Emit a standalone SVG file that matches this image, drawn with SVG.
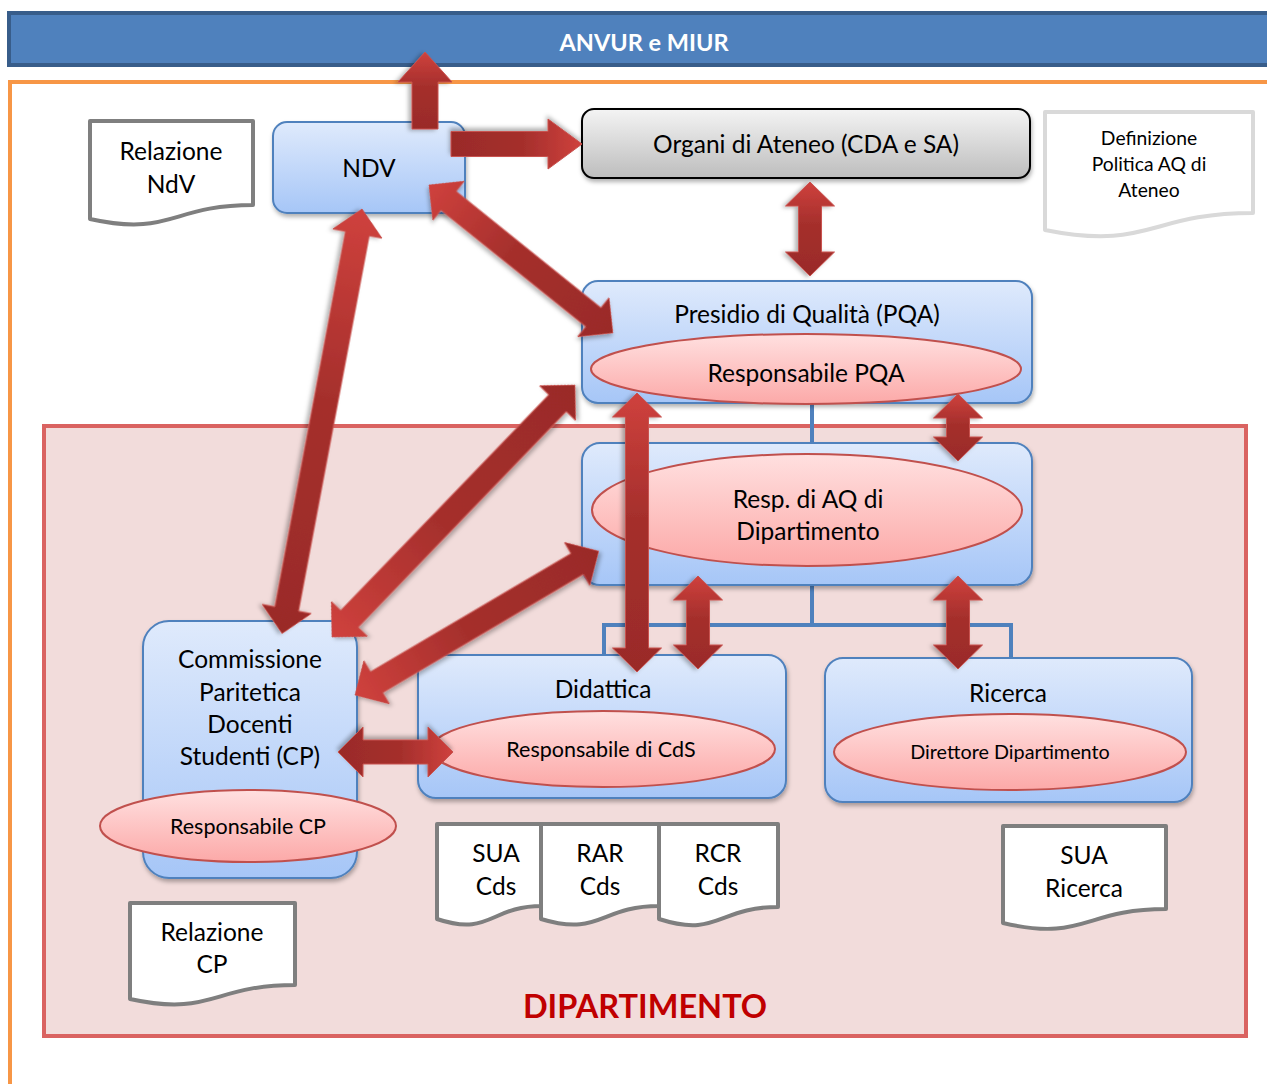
<svg xmlns="http://www.w3.org/2000/svg" width="1267" height="1084" viewBox="0 0 1267 1084">
<defs>
<linearGradient id="gBlue" x1="0" y1="0" x2="0" y2="1"><stop offset="0" stop-color="#dfeafc"/><stop offset="1" stop-color="#a6c6f7"/></linearGradient>
<linearGradient id="gPink" x1="0" y1="0" x2="0" y2="1"><stop offset="0" stop-color="#ffe0e0"/><stop offset="1" stop-color="#fca9a8"/></linearGradient>
<linearGradient id="gGrey" x1="0" y1="0" x2="0" y2="1"><stop offset="0" stop-color="#f4f4f4"/><stop offset="1" stop-color="#bdbdbd"/></linearGradient>
<linearGradient id="gArr" x1="0" y1="0" x2="1" y2="0"><stop offset="0" stop-color="#cf413d"/><stop offset="0.45" stop-color="#a52f2c"/><stop offset="1" stop-color="#9a2b28"/></linearGradient>
<filter id="sh" x="-10%" y="-10%" width="125%" height="130%"><feDropShadow dx="1" dy="3" stdDeviation="2" flood-color="#000" flood-opacity="0.3"/></filter>
<style>
.box{fill:url(#gBlue);stroke:#4f81bd;stroke-width:2;filter:url(#sh)}
.ell{fill:url(#gPink);stroke:#c0504d;stroke-width:2}
.doc{fill:#fff;stroke:#7f7f7f;stroke-width:4;stroke-linejoin:round}
.arr{fill:url(#gArr);stroke:#c9524f;stroke-width:1;filter:url(#sh)}
.t{font-family:Lato,"Open Sans",sans-serif;fill:#000;text-anchor:middle;font-size:24.5px}
.conn{fill:none;stroke:#4f81bd;stroke-width:4}
</style>
</defs>
<rect width="1267" height="1084" fill="#fff"/>

<g id="frame-ateneo"><rect x="10" y="82" width="1300" height="1100" fill="none" stroke="#f79646" stroke-width="4"/></g>
<g id="dipartimento"><rect x="44" y="426" width="1202" height="610" fill="#f2dcdb" stroke="#da6361" stroke-width="4"/>
<text class="t" x="645" y="1018" font-weight="bold" style="fill:#c00000;font-size:32.5px">DIPARTIMENTO</text></g>

<g id="anvur"><rect x="9" y="13" width="1300" height="52" fill="#4f81bd" stroke="#385d8a" stroke-width="4"/>
<text class="t" x="644" y="51" font-weight="bold" style="fill:#fff;font-size:23.5px">ANVUR e MIUR</text></g>

<g id="connectors">
<line class="conn" x1="812" y1="403" x2="812" y2="443"/>
<path class="conn" d="M812,585 V625 M604,657 V625 H1011 V657"/>
</g>

<g id="doc-ndv"><path class="doc" d="M90,121 H253 V205 C171,205 171,237 90,219 Z"/>
<text class="t" x="171" y="160">Relazione</text><text class="t" x="171" y="193">NdV</text></g>

<g id="ndv"><rect class="box" x="273" y="122" width="192" height="91" rx="14"/>
<text class="t" x="369" y="177">NDV</text></g>

<g id="organi"><rect x="582" y="109" width="448" height="69" rx="12" fill="url(#gGrey)" stroke="#000" stroke-width="2" filter="url(#sh)"/>
<text class="t" x="806" y="153">Organi di Ateneo (CDA e SA)</text></g>

<g id="doc-politica"><path class="doc" style="stroke:#d9d9d9" d="M1045,112 H1253 V213 C1149,213 1149,251 1045,230 Z"/>
<text class="t" x="1149" y="145" style="font-size:19.3px">Definizione</text><text class="t" x="1149" y="171" style="font-size:19.3px">Politica AQ di</text><text class="t" x="1149" y="197" style="font-size:19.3px">Ateneo</text></g>

<g id="pqa"><rect class="box" x="582" y="281" width="450" height="122" rx="16"/>
<text class="t" x="807" y="323">Presidio di Qualità (PQA)</text>
<ellipse class="ell" cx="806" cy="369" rx="215" ry="35"/>
<text class="t" x="806" y="382">Responsabile PQA</text></g>

<g id="aq-dip"><rect class="box" x="582" y="443" width="450" height="142" rx="18"/>
<ellipse class="ell" cx="807" cy="510" rx="215" ry="56"/>
<text class="t" x="808" y="508">Resp. di AQ di</text><text class="t" x="808" y="540">Dipartimento</text></g>

<g id="didattica"><rect class="box" x="418" y="655" width="368" height="143" rx="18"/>
<text class="t" x="603" y="698">Didattica</text>
<ellipse class="ell" cx="603" cy="749" rx="172" ry="38"/>
<text class="t" x="601" y="757" style="font-size:21.5px">Responsabile di CdS</text></g>

<g id="ricerca"><rect class="box" x="825" y="658" width="367" height="144" rx="18"/>
<text class="t" x="1008" y="702">Ricerca</text>
<ellipse class="ell" cx="1010" cy="752" rx="176" ry="38"/>
<text class="t" x="1010" y="759" style="font-size:19.8px">Direttore Dipartimento</text></g>

<g id="cp"><rect class="box" x="143" y="621" width="214" height="257" rx="26"/>
<text class="t" x="250" y="668">Commissione</text><text class="t" x="250" y="701">Paritetica</text><text class="t" x="250" y="733">Docenti</text><text class="t" x="250" y="765">Studenti (CP)</text>
<ellipse class="ell" cx="248" cy="826" rx="148" ry="36"/>
<text class="t" x="248" y="834" style="font-size:21.5px">Responsabile CP</text></g>

<g id="doc-sua-cds"><path class="doc" d="M437,824 H542 V906 C490,906 490,937 437,919 Z"/>
<text class="t" x="496" y="862">SUA</text><text class="t" x="496" y="895">Cds</text></g>
<g id="doc-rar-cds"><path class="doc" d="M541,824 H659 V906 C600,906 600,937 541,919 Z"/>
<text class="t" x="600" y="862">RAR</text><text class="t" x="600" y="895">Cds</text></g>
<g id="doc-rcr-cds"><path class="doc" d="M659,824 H778 V907 C718,907 718,938 659,919 Z"/>
<text class="t" x="718" y="862">RCR</text><text class="t" x="718" y="895">Cds</text></g>
<g id="doc-sua-ricerca"><path class="doc" d="M1003,826 H1166 V909 C1084,909 1084,942 1003,923 Z"/>
<text class="t" x="1084" y="864">SUA</text><text class="t" x="1084" y="897">Ricerca</text></g>
<g id="doc-cp"><path class="doc" d="M130,903 H295 V985 C212,985 212,1017 130,999 Z"/>
<text class="t" x="212" y="941">Relazione</text><text class="t" x="212" y="973">CP</text></g>

<g id="arrows">
<path class="arr" transform="translate(425,52) rotate(90)" d="M0,0 L30,-27 L30,-13 L77,-13 L77,13 L30,13 L30,27 Z"/>
<path class="arr" transform="translate(582,144) rotate(180)" d="M0,0 L34,-25 L34,-12.5 L131,-12.5 L131,12.5 L34,12.5 L34,25 Z"/>
<path class="arr" transform="translate(429,185) rotate(38.81)" d="M0,0 L25,-25 L25,-12 L211,-12 L211,-25 L236,0 L211,25 L211,12 L25,12 L25,25 Z"/>
<path class="arr" transform="translate(810,182) rotate(90)" d="M0,0 L24,-24.5 L24,-11.5 L70,-11.5 L70,-24.5 L94,0 L70,24.5 L70,11.5 L24,11.5 L24,24.5 Z"/>
<path class="arr" transform="translate(362,209) rotate(100.66)" d="M0,0 L25,-25 L25,-12 L407,-12 L407,-25 L432,0 L407,25 L407,12 L25,12 L25,25 Z"/>
<path class="arr" transform="translate(332,637) rotate(-46.04)" d="M0,0 L25,-25 L25,-12 L325,-12 L325,-25 L350,0 L325,25 L325,12 L25,12 L25,25 Z"/>
<path class="arr" transform="translate(355,695) rotate(-30.55)" d="M0,0 L25,-25 L25,-12 L258,-12 L258,-25 L283,0 L258,25 L258,12 L25,12 L25,25 Z"/>
<path class="arr" transform="translate(453,752) rotate(180)" d="M0,0 L25,-25 L25,-12 L90,-12 L90,-25 L115,0 L90,25 L90,12 L25,12 L25,25 Z"/>
<path class="arr" transform="translate(637,393) rotate(90)" d="M0,0 L24,-24.5 L24,-11.5 L255,-11.5 L255,-24.5 L279,0 L255,24.5 L255,11.5 L24,11.5 L24,24.5 Z"/>
<path class="arr" transform="translate(958,394) rotate(90)" d="M0,0 L24,-24.5 L24,-11.5 L43,-11.5 L43,-24.5 L67,0 L43,24.5 L43,11.5 L24,11.5 L24,24.5 Z"/>
<path class="arr" transform="translate(698,576) rotate(90)" d="M0,0 L24,-24.5 L24,-11.5 L69,-11.5 L69,-24.5 L93,0 L69,24.5 L69,11.5 L24,11.5 L24,24.5 Z"/>
<path class="arr" transform="translate(958,576) rotate(90)" d="M0,0 L24,-24.5 L24,-11.5 L69,-11.5 L69,-24.5 L93,0 L69,24.5 L69,11.5 L24,11.5 L24,24.5 Z"/>
</g>
</svg>
